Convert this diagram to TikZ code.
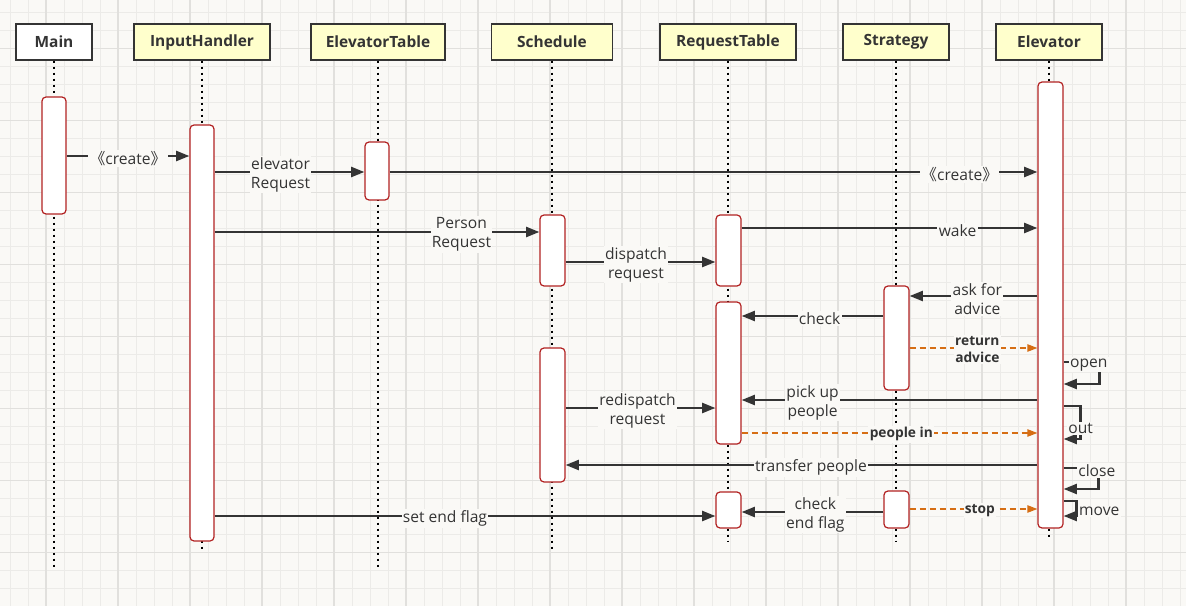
\documentclass[tikz,border=0pt]{standalone}
\usepackage{fontspec}
\setmainfont{Open Sans}
\newfontfamily\cjk{Noto Sans CJK SC}
\usepackage{tikz}
\usetikzlibrary{positioning, shapes, arrows.meta, calc, fit}

\definecolor{paper}{RGB}{250,249,246}
\definecolor{gridminor}{RGB}{236,235,232}
\definecolor{gridmajor}{RGB}{225,224,221}
\definecolor{headfill}{RGB}{255,255,204}
\definecolor{ink}{RGB}{52,52,52}
\definecolor{barred}{RGB}{178,34,34}
\definecolor{retorange}{RGB}{214,110,20}

\newcommand{\stereo}[1]{{\cjk 《}#1{\cjk 》}}

\begin{document}
\begin{tikzpicture}[x=0.75pt, y=-0.75pt,
  head/.style={draw=ink, line width=1.1pt, fill=headfill, minimum height=27pt, inner sep=0pt, text=ink, font=\fontsize{11.6}{13}\selectfont\bfseries},
  life/.style={draw=black, line width=2pt, dash pattern=on 2pt off 2.5pt},
  bar/.style={draw=barred, line width=0.9pt, fill=white, rounded corners=3pt, inner sep=0pt},
  msg/.style={draw=ink, line width=1.8pt, -{Triangle[length=10pt,width=7.5pt]}},
  ret/.style={draw=retorange, line width=1pt, dash pattern=on 4.5pt off 3pt, -{Triangle[length=7.5pt,width=5.5pt]}},
  lbl/.style={fill=paper, inner sep=1pt, yshift=-2pt, text=ink, align=center, font=\fontsize{11.7}{14.2}\selectfont},
  rlbl/.style={fill=paper, inner sep=1pt, yshift=-1pt, text=ink, align=center, font=\fontsize{10.3}{13.2}\selectfont\bfseries}]

\useasboundingbox (0,0) rectangle (1186,606);

% Grid paper
\fill[paper] (0,0) rectangle (1186,606);
\foreach \x in {10,28,...,1186} \draw[gridminor, line width=0.75pt] (\x,0) -- (\x,606);
\foreach \y in {12.5,30.5,...,606} \draw[gridminor, line width=0.75pt] (0,\y) -- (1186,\y);
\foreach \x in {46,118,...,1186} \draw[gridmajor, line width=1.1pt] (\x,0) -- (\x,606);
\foreach \y in {48.5,120.5,...,606} \draw[gridmajor, line width=1.1pt] (0,\y) -- (1186,\y);

% Objects
\node[head, fill=white, minimum width=57pt] (hMain) at (54,42) {Main};
\node[head, minimum width=102pt] (hInput) at (202,42) {InputHandler};
\node[head, minimum width=100.5pt] (hTable) at (378,42) {ElevatorTable};
\node[head, minimum width=90.75pt] (hSched) at (552,42) {Schedule};
\node[head, minimum width=102pt] (hReq) at (728,42) {RequestTable};
\node[head, minimum width=79.5pt] (hStrat) at (896,42) {Strategy};
\node[head, minimum width=79.5pt] (hElev) at (1049,42) {Elevator};

% Lifelines
\foreach \h/\e in {hMain/570, hInput/552, hTable/570, hSched/552, hReq/542, hStrat/542, hElev/540}
  \draw[life] (\h.south) -- (\h.south |- 0,\e);

% Activations
\node[bar, fit={(42,97) (66,214)}] (barMain) {};
\node[bar, fit={(190,125) (214,541)}] (barInput) {};
\node[bar, fit={(365,142) (389,200)}] (barTable) {};
\node[bar, fit={(540,215) (565,286)}] (barSchedA) {};
\node[bar, fit={(540,348) (565,482)}] (barSchedB) {};
\node[bar, fit={(716,215) (741,286)}] (barReqA) {};
\node[bar, fit={(716,302) (741,444)}] (barReqB) {};
\node[bar, fit={(716,492) (741,528)}] (barReqC) {};
\node[bar, fit={(884,286) (909,390)}] (barStratA) {};
\node[bar, fit={(884,491) (909,528)}] (barStratB) {};
\node[bar, fit={(1038,82) (1063,528)}] (barElev) {};

% Messages
\draw[msg] (barMain.east |- 0,156) -- node[lbl]{\stereo{create}} (barInput.west |- 0,156);
\draw[msg] (barInput.east |- 0,172) -- node[lbl, pos=0.44]{elevator\\Request} (barTable.west |- 0,172);
\draw[msg] (barTable.east |- 0,172) -- node[lbl, pos=0.88]{\stereo{create}} (barElev.west |- 0,172);
\draw[msg] (barInput.east |- 0,232) -- node[lbl, pos=0.76]{Person\\Request} (barSchedA.west |- 0,232);
\draw[msg] (barSchedA.east |- 0,262) -- node[lbl, pos=0.47]{dispatch\\request} (barReqA.west |- 0,262);
\draw[msg] (barReqA.east |- 0,228) -- node[lbl, pos=0.73]{wake} (barElev.west |- 0,228);
\draw[msg] (barElev.west |- 0,296) -- node[lbl, pos=0.47]{ask for\\advice} (barStratA.east |- 0,296);
\draw[msg] (barStratA.west |- 0,316) -- node[lbl, pos=0.45]{check} (barReqB.east |- 0,316);
\draw[ret] (barStratA.east |- 0,348) -- node[rlbl, pos=0.53]{return\\advice} (barElev.west |- 0,348);
\draw[msg] (barElev.west |- 0,400) -- node[lbl, pos=0.76]{pick up\\people} (barReqB.east |- 0,400);
\draw[msg] (barSchedB.east |- 0,408) -- node[lbl, pos=0.48]{redispatch\\request} (barReqB.west |- 0,408);
\draw[ret] (barReqB.east |- 0,433) -- node[rlbl, pos=0.54]{people in} (barElev.west |- 0,433);
\draw[msg] (barElev.west |- 0,465) -- node[lbl, pos=0.48]{transfer people} (barSchedB.east |- 0,465);
\draw[msg] (barInput.east |- 0,516) -- node[lbl, pos=0.46]{set end flag} (barReqC.west |- 0,516);
\draw[msg] (barStratB.west |- 0,512) -- node[lbl, pos=0.48]{check\\end flag} (barReqC.east |- 0,512);
\draw[ret] (barStratB.east |- 0,509) -- node[rlbl, pos=0.55]{stop} (barElev.west |- 0,509);

% Self calls of Elevator
\draw[msg] (barElev.east |- 0,362) -- node[lbl, pos=0.7]{open} ++(36,0) |- (barElev.east |- 0,384);
\draw[msg] (barElev.east |- 0,406) -- ++(17,0) -- node[lbl, pos=0.6]{out} ++(0,33) -- (barElev.east |- 0,439);
\draw[msg] (barElev.east |- 0,468) -- node[lbl, pos=0.95]{close} ++(35,0) |- (barElev.east |- 0,489);
\draw[msg] (barElev.east |- 0,501) -- ++(13,0) -- node[lbl, anchor=west]{move} ++(0,15) -- (barElev.east |- 0,516);

\end{tikzpicture}
\end{document}
